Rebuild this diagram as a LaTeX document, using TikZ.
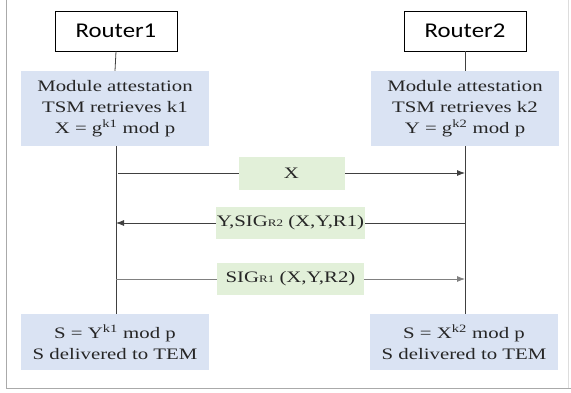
\documentclass[tikz,border=0pt]{standalone}
\usepackage{fontspec}
\usepackage{xcolor}
\usepackage{tikz}
\usetikzlibrary{arrows.meta}
\usetikzlibrary{calc}
\setmainfont{Liberation Serif}[FakeStretch=1.3]
\newfontfamily\routerfont{Carlito}[FakeStretch=1.18]
\definecolor{attblue}{RGB}{218,227,243}
\definecolor{msggreen}{RGB}{226,240,217}
\definecolor{linegray}{RGB}{64,64,64}
\definecolor{textgray}{RGB}{38,38,38}
\definecolor{framegray}{RGB}{170,170,170}

\begin{document}
\begin{tikzpicture}[x=1pt, y=-1pt,
	router/.style={draw, line width=0.8pt, minimum width=122pt, minimum height=40pt, inner sep=0pt, font=\routerfont\fontsize{21}{24}\selectfont},
	att/.style={fill=attblue, minimum width=188pt, minimum height=#1, inner sep=0pt, align=center, text=textgray, font=\fontsize{16}{21}\selectfont},
	msg/.style={fill=msggreen, minimum width=#1, minimum height=32pt, inner sep=0pt, text=textgray, font=\fontsize{16}{21}\selectfont},
	line/.style={>={Latex[length=8pt,width=6pt]}, linegray, line width=0.8pt}]
	\useasboundingbox (0,0) rectangle (571,392);
	% frame
	\draw[framegray, line width=1pt] (6,0) -- (6,388) -- (571,388);
	\draw[framegray!40] (568,0) -- (568,388);
	% routers and boxes
	\node[router] (R1) at (116,31) {Router1};
	\node[router] (R2) at (465,31) {Router2};
	\node[att=75pt] (A1) at (115,108.5) {Module attestation\\TSM retrieves k1\\X = g\textsuperscript{k1} mod p};
	\node[att=75pt] (A2) at (465,108.5) {Module attestation\\TSM retrieves k2\\Y = g\textsuperscript{k2} mod p};
	\node[att=56pt] (S1) at (115,342) {S = Y\textsuperscript{k1} mod p\\S delivered to TEM};
	\node[att=56pt] (S2) at (464,342) {S = X\textsuperscript{k2} mod p\\S delivered to TEM};
	% lifelines
	\draw[line] (R1.south) -- (A1.north);
	\draw[line] (R2.south) -- (A2.north);
	\draw[line] (A1.south -| R1.south) -- (S1.north -| R1.south);
	\draw[line] (A2.south -| R2.south) -- (S2.north -| R2.south);
	% messages
	\coordinate (m1l) at (118,173);
	\coordinate (m1r) at (465,173);
	\coordinate (m2l) at (116,223);
	\coordinate (m2r) at (465,223);
	\coordinate (m3l) at (116,279);
	\coordinate (m3r) at (465,279);
	\draw[->, line] (m1l) -- node[msg=106pt, minimum height=33pt] (M1) {X} (m1r);
	\draw[->, line] (m2r) -- node[msg=149pt] (M2) {Y,SIG{\fontsize{10}{10}\selectfont R2} (X,Y,R1)} (m2l);
	\draw[->, line, gray] (m3l) -- node[msg=147pt] (M3) {SIG{\fontsize{10}{10}\selectfont R1} (X,Y,R2)} (m3r);
\end{tikzpicture}
\end{document}
